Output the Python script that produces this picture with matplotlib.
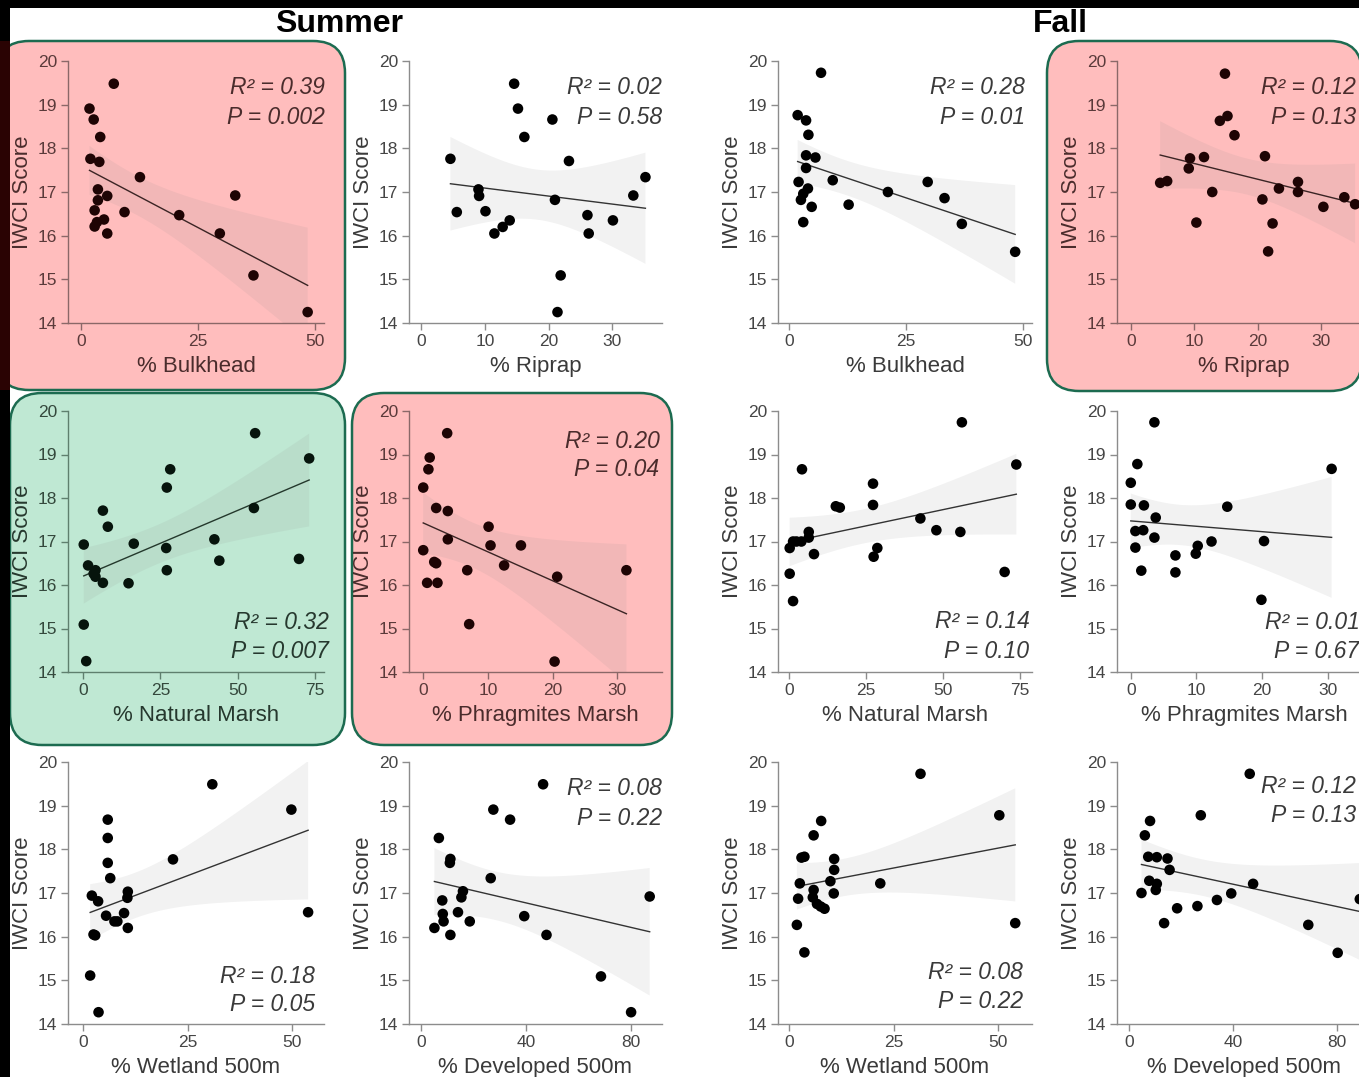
import numpy as np
import matplotlib
matplotlib.use("Agg")
import matplotlib.pyplot as plt
from matplotlib.patches import FancyBboxPatch, Rectangle

plt.rcParams['font.family'] = ['Liberation Sans', 'DejaVu Sans']

# ---------------- data ----------------
# Summer
su_bulk_x = [7.0, 1.8, 2.7, 4.1, 2.0, 3.9, 12.6, 3.6, 5.6, 33.0, 3.6, 9.3, 21.0, 2.9, 4.9, 3.4, 2.9, 5.6, 29.7, 36.9, 48.5]
su_bulk_y = [19.48, 18.91, 18.66, 18.26, 17.76, 17.69, 17.34, 17.06, 16.91, 16.92, 16.81, 16.54, 16.47, 16.58, 16.37, 16.31, 16.21, 16.05, 16.05, 15.09, 14.25]

su_rip_x = [14.6, 15.2, 16.2, 20.6, 4.6, 23.2, 35.2, 33.3, 9.0, 9.1, 21.0, 5.6, 10.1, 26.1, 13.9, 30.1, 12.8, 11.5, 26.3, 21.9, 21.4]
su_rip_y = [19.48, 18.91, 18.26, 18.66, 17.76, 17.71, 17.34, 16.92, 17.06, 16.91, 16.82, 16.54, 16.56, 16.47, 16.35, 16.35, 16.20, 16.05, 16.05, 15.09, 14.25]

su_nat_x = [55.7, 73.2, 28.2, 27.1, 55.3, 6.4, 8.0, 42.5, 0.2, 16.4, 26.9, 1.6, 44.1, 69.9, 27.1, 4.0, 3.4, 4.0, 6.4, 14.7, 0.2, 1.0]
su_nat_y = [19.49, 18.91, 18.66, 18.24, 17.77, 17.71, 17.34, 17.05, 16.93, 16.95, 16.85, 16.45, 16.56, 16.60, 16.34, 16.34, 16.26, 16.19, 16.05, 16.04, 15.09, 14.25]

su_phr_x = [3.7, 1.0, 0.8, 0.0, 2.0, 3.8, 10.1, 3.8, 0.0, 10.4, 15.1, 1.7, 2.0, 12.5, 6.8, 20.7, 31.4, 0.6, 2.2, 7.1, 20.3]
su_phr_y = [19.49, 18.93, 18.66, 18.24, 17.77, 17.70, 17.34, 17.05, 16.80, 16.91, 16.91, 16.53, 16.50, 16.45, 16.34, 16.19, 16.34, 16.05, 16.05, 15.10, 14.24]

su_wet_x = [30.9, 49.8, 5.9, 5.9, 21.5, 5.9, 6.5, 10.7, 10.6, 2.1, 3.6, 53.8, 9.8, 5.5, 7.5, 8.2, 10.7, 2.5, 2.9, 1.7, 3.7]
su_wet_y = [19.49, 18.91, 18.68, 18.26, 17.77, 17.69, 17.34, 17.03, 16.89, 16.94, 16.81, 16.56, 16.54, 16.48, 16.35, 16.35, 16.20, 16.05, 16.03, 15.11, 14.27]

su_dev_x = [46.6, 27.6, 34.0, 6.8, 11.2, 11.0, 26.6, 16.0, 15.4, 87.3, 8.1, 14.1, 8.3, 39.4, 8.6, 18.6, 5.1, 11.2, 47.9, 68.7, 80.2]
su_dev_y = [19.49, 18.91, 18.68, 18.26, 17.78, 17.69, 17.34, 17.04, 16.90, 16.92, 16.83, 16.56, 16.52, 16.47, 16.35, 16.35, 16.20, 16.04, 16.04, 15.09, 14.27]

# Fall
fa_bulk_x = [6.9, 1.9, 3.7, 4.2, 3.7, 5.7, 3.7, 9.4, 2.1, 4.1, 3.1, 2.6, 21.2, 29.7, 33.3, 12.8, 4.9, 3.1, 37.0, 48.4]
fa_bulk_y = [19.73, 18.76, 18.64, 18.31, 17.84, 17.79, 17.55, 17.27, 17.23, 17.08, 16.96, 16.82, 17.00, 17.23, 16.86, 16.71, 16.66, 16.31, 16.27, 15.63]

fa_rip_x = [14.8, 15.2, 14.0, 16.3, 21.1, 9.3, 11.5, 9.1, 4.6, 5.7, 26.3, 23.3, 26.3, 12.8, 20.7, 33.6, 35.3, 30.3, 10.3, 22.3, 21.6]
fa_rip_y = [19.71, 18.74, 18.63, 18.30, 17.82, 17.77, 17.80, 17.54, 17.21, 17.25, 17.23, 17.08, 17.00, 17.00, 16.83, 16.88, 16.72, 16.66, 16.30, 16.28, 15.64]

fa_nat_x = [56.2, 73.9, 4.2, 27.3, 15.2, 16.5, 27.3, 42.7, 47.9, 55.7, 6.4, 6.4, 1.3, 2.4, 4.0, 0.2, 28.7, 27.5, 8.1, 0.2, 70.1, 1.3]
fa_nat_y = [19.74, 18.77, 18.66, 18.33, 17.81, 17.78, 17.84, 17.53, 17.26, 17.22, 17.22, 17.09, 17.00, 17.00, 17.00, 16.85, 16.85, 16.65, 16.71, 16.26, 16.30, 15.63]

fa_phr_x = [3.6, 1.0, 30.6, 0.0, 0.0, 2.0, 14.7, 3.8, 0.7, 1.9, 3.6, 12.3, 20.3, 10.2, 9.9, 0.7, 6.8, 1.6, 6.8, 19.9]
fa_phr_y = [19.74, 18.78, 18.67, 18.35, 17.85, 17.83, 17.80, 17.55, 17.24, 17.26, 17.09, 17.00, 17.01, 16.90, 16.72, 16.86, 16.68, 16.33, 16.29, 15.66]

fa_wet_x = [31.4, 50.2, 7.7, 5.9, 3.0, 3.7, 10.8, 10.8, 9.9, 2.6, 21.8, 5.9, 10.7, 2.2, 5.7, 6.7, 7.6, 8.5, 1.9, 54.0, 3.7]
fa_wet_y = [19.73, 18.78, 18.65, 18.32, 17.81, 17.83, 17.78, 17.53, 17.27, 17.22, 17.22, 17.07, 16.99, 16.87, 16.90, 16.75, 16.69, 16.64, 16.27, 16.31, 15.64]

fa_dev_x = [46.4, 27.6, 8.1, 6.1, 7.4, 10.7, 14.8, 15.6, 7.8, 10.7, 10.3, 4.8, 39.3, 47.7, 33.8, 26.3, 18.5, 13.5, 68.9, 80.2, 88.7]
fa_dev_y = [19.73, 18.78, 18.65, 18.32, 17.83, 17.82, 17.79, 17.53, 17.28, 17.21, 17.07, 17.00, 16.99, 17.21, 16.84, 16.70, 16.65, 16.31, 16.27, 15.63, 16.86]

x_labels = ["% Bulkhead", "% Riprap", "% Bulkhead", "% Riprap",
            "% Natural Marsh", "% Phragmites Marsh", "% Natural Marsh", "% Phragmites Marsh",
            "% Wetland 500m", "% Developed 500m", "% Wetland 500m", "% Developed 500m"]
r2_labels = ["0.39", "0.02", "0.28", "0.12", "0.32", "0.20", "0.14", "0.01",
             "0.18", "0.08", "0.08", "0.12"]
p_labels = ["0.002", "0.58", "0.01", "0.13", "0.007", "0.04", "0.10", "0.67",
            "0.05", "0.22", "0.22", "0.13"]
x_ticks = [[0, 25, 50], [0, 10, 20, 30], [0, 25, 50], [0, 10, 20, 30],
           [0, 25, 50, 75], [0, 10, 20, 30], [0, 25, 50, 75], [0, 10, 20, 30],
           [0, 25, 50], [0, 40, 80], [0, 25, 50], [0, 40, 80]]
y_ticks = [14, 15, 16, 17, 18, 19, 20]
season_titles = ["Summer", "Fall"]

panels_x = [su_bulk_x, su_rip_x, fa_bulk_x, fa_rip_x,
            su_nat_x, su_phr_x, fa_nat_x, fa_phr_x,
            su_wet_x, su_dev_x, fa_wet_x, fa_dev_x]
panels_y = [su_bulk_y, su_rip_y, fa_bulk_y, fa_rip_y,
            su_nat_y, su_phr_y, fa_nat_y, fa_phr_y,
            su_wet_y, su_dev_y, fa_wet_y, fa_dev_y]

# ---------------- layout (pixels) ----------------
W, H = 1359, 1077
fig = plt.figure(figsize=(W / 100, H / 100), dpi=100)
fig.patch.set_facecolor("white")

col_left = [68, 409, 778, 1117]
col_width = [256, 253, 254, 254]
row_top = [61, 411, 762]
row_bot = [323, 672, 1024]
x_lims = [(-2.8, 52), (-1.9, 37.8), (-2.3, 52), (-2.2, 37.8),
          (-4.9, 78), (-2.2, 36.9), (-3.6, 79), (-2.1, 36.6),
          (-3.6, 57.6), (-4.6, 92), (-2.6, 58), (-4.6, 93)]
# annotation placement: (x frac, R2 y frac, P y frac)
ann_pos = [(1.005, 0.897, 0.786), (1.0, 0.897, 0.786), (0.972, 0.897, 0.786), (0.94, 0.897, 0.786),
           (1.02, 0.188, 0.077), (0.99, 0.885, 0.774), (0.99, 0.192, 0.077), (0.955, 0.188, 0.077),
           (0.965, 0.183, 0.073), (1.0, 0.897, 0.786), (0.965, 0.198, 0.084), (0.94, 0.905, 0.797)]
# highlight: None / 'red' / 'green'
highlight = ['red', None, None, 'red', 'green', 'red', None, None, None, None, None, None]

PINK = "#ffbdbd"
GREEN = "#bfe8d3"
EDGE = "#1c6b50"

def px_box(x0, y0, x1, y1, color):
    # pixel coords (top-left origin) -> inches
    b = FancyBboxPatch((x0 / 100, (H - y1) / 100), (x1 - x0) / 100, (y1 - y0) / 100,
                       boxstyle="round,pad=0,rounding_size=0.32",
                       transform=fig.dpi_scale_trans, facecolor=color,
                       edgecolor=EDGE, linewidth=1.8, zorder=-5)
    fig.add_artist(b)

px_box(-3, 41, 345, 390, PINK)
px_box(1047, 41, 1362, 391, PINK)
px_box(10, 393, 345, 745, GREEN)
px_box(352, 393, 672, 745, PINK)

# frame strips
fig.add_artist(Rectangle((0, (H - 8) / 100), W / 100, 8 / 100, transform=fig.dpi_scale_trans,
                         facecolor="black", edgecolor="none", zorder=10))
fig.add_artist(Rectangle((0, 0), 10 / 100, H / 100, transform=fig.dpi_scale_trans,
                         facecolor="black", edgecolor="none", zorder=10))
fig.add_artist(Rectangle((0, (H - 390) / 100), 10 / 100, (390 - 41) / 100, transform=fig.dpi_scale_trans,
                         facecolor="#2a0303", edgecolor="none", zorder=11))

fig.text(339 / W, 1 - 24 / H, season_titles[0], ha="center", va="center",
         fontsize=23, fontweight="bold", color="black")
fig.text(1060 / W, 1 - 24 / H, season_titles[1], ha="center", va="center",
         fontsize=23, fontweight="bold", color="black")


def fit_band(x, y):
    x = np.asarray(x, float)
    y = np.asarray(y, float)
    b, a = np.polyfit(x, y, 1)
    xs = np.linspace(x.min(), x.max(), 120)
    yhat = a + b * xs
    n = len(x)
    resid = y - (a + b * x)
    s = np.sqrt(np.sum(resid ** 2) / (n - 2))
    se = s * np.sqrt(1 / n + (xs - x.mean()) ** 2 / np.sum((x - x.mean()) ** 2))
    t = 2.09
    return xs, yhat, yhat - t * se, yhat + t * se


for i in range(12):
    r, c = divmod(i, 4)
    l = col_left[c]
    w = col_width[c]
    top, bot = row_top[r], row_bot[r]
    ax = fig.add_axes([l / W, 1 - bot / H, w / W, (bot - top) / H])
    ax.set_facecolor("none")

    hl = highlight[i]
    if hl == 'red':
        txt_c, tick_c, pt_c, sp_c, line_c = "#4a2c2c", "#5a3a3a", "#1e0404", "#8a6868", "#3a2424"
    elif hl == 'green':
        txt_c, tick_c, pt_c, sp_c, line_c = "#26382e", "#34483c", "#06140c", "#5f7f6e", "#24382c"
    else:
        txt_c, tick_c, pt_c, sp_c, line_c = "#3a3a3a", "#454545", "#000000", "#8c8c8c", "#333333"

    xs, yhat, lo, hi = fit_band(panels_x[i], panels_y[i])
    ax.fill_between(xs, lo, hi, facecolor="#8a8a8a", alpha=0.11, linewidth=0, zorder=1)
    ax.plot(xs, yhat, color=line_c, linewidth=1.0, zorder=2)
    ax.scatter(panels_x[i], panels_y[i], s=58, color=pt_c, edgecolors="none", zorder=3)

    ax.set_xlim(*x_lims[i])
    ax.set_ylim(14, 20)
    ax.set_xticks(x_ticks[i])
    ax.set_yticks(y_ticks)
    for side in ("top", "right"):
        ax.spines[side].set_visible(False)
    for side in ("left", "bottom"):
        ax.spines[side].set_color(sp_c)
        ax.spines[side].set_linewidth(1.0)
    ax.tick_params(direction="out", length=5, width=1.0, color=sp_c,
                   labelsize=12.5, labelcolor=tick_c, pad=3)
    ax.set_xlabel(x_labels[i], fontsize=16, color=txt_c, labelpad=5)
    ax.set_ylabel("IWCI Score", fontsize=16, color=txt_c, labelpad=3)

    ax_x, ry, py = ann_pos[i]
    ax.text(ax_x, ry, "R\u00b2 = " + r2_labels[i], transform=ax.transAxes, ha="right", va="center",
            fontsize=16.5, style="italic", color=txt_c, clip_on=False)
    ax.text(ax_x, py, "P = " + p_labels[i], transform=ax.transAxes, ha="right", va="center",
            fontsize=16.5, style="italic", color=txt_c, clip_on=False)

fig.savefig("out.png", dpi=100)
